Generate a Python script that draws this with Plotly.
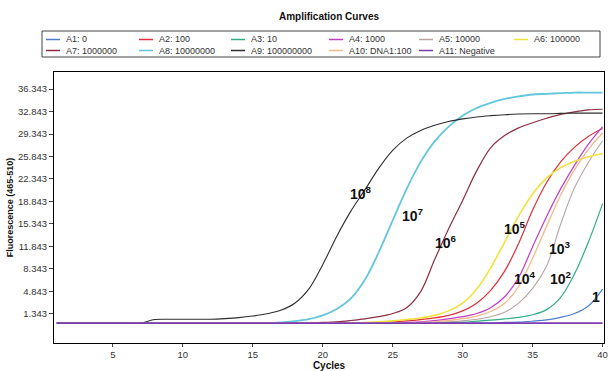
import plotly.graph_objects as go

cycles = list(range(1, 41))
b = -0.1

a1_blank = [b] * 32 + [0.0, 0.05, 0.2, 0.4, 0.8, 1.4, 2.6, 5.2]
a2_100 = [b] * 23 + [0.0, 0.1, 0.25, 0.45, 0.7, 1.1, 1.8, 3.0, 5.0, 8.0, 12.3, 17.5, 21.8, 25.0, 27.3, 29.0, 30.2]
a3_10 = [b] * 28 + [0.0, 0.05, 0.2, 0.35, 0.55, 0.8, 1.2, 2.0, 3.9, 7.6, 12.6, 18.5]
a4_1000 = [b] * 25 + [0.0, 0.1, 0.3, 0.55, 0.9, 1.4, 2.3, 4.0, 7.0, 11.8, 16.5, 20.8, 24.5, 27.8, 30.5]
a5_10000 = [b] * 27 + [0.0, 0.1, 0.25, 0.5, 0.9, 1.6, 3.0, 5.3, 8.8, 15.3, 21.0, 25.0, 28.3]
a6_1e5 = [b] * 22 + [0.0, 0.1, 0.25, 0.45, 0.7, 1.1, 1.8, 3.0, 5.2, 8.5, 12.5, 16.6, 20.0, 22.5, 24.1, 25.1, 25.8, 26.3]
a7_1e6 = [b] * 19 + [0.0, 0.1, 0.3, 0.55, 0.9, 1.4, 2.3, 4.8, 9.8, 14.6, 19.0, 23.6, 27.2, 29.1, 30.3, 31.1, 31.8, 32.4, 32.8, 33.1, 33.2]
a8_1e7 = [b] * 16 + [0.0, 0.2, 0.5, 1.1, 2.1, 3.7, 6.6, 10.9, 15.9, 20.8, 25.0, 28.2, 30.5, 32.2, 33.4, 34.2, 34.8, 35.2, 35.5, 35.6, 35.7, 35.8, 35.8, 35.8]
a9_1e8 = [b] * 7 + [0.45, 0.5, 0.5, 0.5, 0.5, 0.6, 0.75, 1.0, 1.35, 1.9, 3.0, 5.2, 9.0, 13.4, 17.3, 20.6, 24.0, 26.8, 28.7, 29.9, 30.7, 31.3, 31.7, 32.0, 32.2, 32.35, 32.45, 32.5, 32.5, 32.55, 32.6, 32.6, 32.6]
a10_dna = [b] * 26 + [0.0, 0.1, 0.3, 0.6, 1.0, 1.7, 3.0, 5.6, 10.0, 15.0, 19.8, 23.8, 27.0, 29.5]
a11_neg = [b] * 40

series_names = ["A1: 0", "A2: 100", "A3: 10", "A4: 1000", "A5: 10000", "A6: 100000",
                "A7: 1000000", "A8: 10000000", "A9: 100000000", "A10: DNA1:100", "A11: Negative"]
series_values = [a1_blank, a2_100, a3_10, a4_1000, a5_10000, a6_1e5, a7_1e6, a8_1e7, a9_1e8, a10_dna, a11_neg]
series_colors = ["#4f7fc8", "#e0303a", "#2fae86", "#c23cc4", "#b9a4a4", "#f2e23c",
                 "#8c2f42", "#62c6dc", "#2e2e2e", "#f2b98a", "#7a3cb0"]
series_widths = [1.2, 1.2, 1.2, 1.2, 1.1, 1.6, 1.2, 1.8, 1.1, 1.3, 1.6]

y_ticks = [1.343 + 3.5 * k for k in range(11)]
y_tick_text = ["%.3f" % v for v in y_ticks]
x_ticks = [5, 10, 15, 20, 25, 30, 35, 40]

labels_text = ["<b>10<sup>8</sup></b>", "<b>10<sup>7</sup></b>", "<b>10<sup>6</sup></b>", "<b>10<sup>5</sup></b>",
               "<b>10<sup>3</sup></b>", "<b>10<sup>4</sup></b>", "<b>10<sup>2</sup></b>", "<b>1</b>"]
labels_x = [21.8, 25.5, 27.86, 32.79, 36.0, 33.5, 36.07, 39.07]
labels_y = [20.16, 16.74, 12.54, 14.72, 11.61, 6.94, 6.94, 3.99]

W, H = 609, 371
ML, MR, MT, MB = 54, 5, 72, 28
PW, PH = W - ML - MR, H - MT - MB


def px_x(px):
    return (px - ML) / PW


def px_y(py):
    return (H - MB - py) / PH


fig = go.Figure()
for name, vals, col, w in zip(series_names, series_values, series_colors, series_widths):
    fig.add_trace(go.Scatter(x=cycles, y=vals, name=name, mode="lines", showlegend=False,
                             line=dict(color=col, width=w, shape="spline", smoothing=1.0)))

for t, xv, yv in zip(labels_text, labels_x, labels_y):
    fig.add_annotation(x=xv, y=yv, text=t, showarrow=False, xanchor="left", yanchor="middle",
                       font=dict(family="Liberation Sans, Arial", size=14, color="#111111"))

# legend box (drawn as layout decoration, entries from the series lists)
shapes = [dict(type="rect", xref="paper", yref="paper", x0=px_x(42), x1=px_x(600),
               y0=px_y(57), y1=px_y(31), line=dict(color="#444444", width=1), fillcolor="white", layer="above")]
col_starts = [46, 139, 231, 329, 419, 514]
row_centers = [39.5, 50.5]
for i, (name, col) in enumerate(zip(series_names, series_colors)):
    r, c = divmod(i, 6)
    x0 = col_starts[c]
    yc = row_centers[r]
    shapes.append(dict(type="line", xref="paper", yref="paper", x0=px_x(x0), x1=px_x(x0 + 14),
                       y0=px_y(yc), y1=px_y(yc), line=dict(color=col, width=1.5), layer="above"))
    fig.add_annotation(xref="paper", yref="paper", x=px_x(x0 + 18), y=px_y(yc), text=name,
                       showarrow=False, xanchor="left", yanchor="middle",
                       font=dict(family="Liberation Sans, Arial", size=9, color="#333333"))

fig.update_layout(
    width=W, height=H,
    margin=dict(l=ML, r=MR, t=MT, b=MB, autoexpand=False),
    paper_bgcolor="white", plot_bgcolor="white",
    font=dict(family="Liberation Sans, Arial", size=10, color="#222222"),
    title=dict(text="<b>Amplification Curves</b>", x=0.5, xref="paper", y=0.955, yanchor="middle",
               font=dict(size=10, color="#111111")),
    showlegend=False,
    shapes=shapes,
    xaxis=dict(range=[0.8, 40.1], tickvals=x_ticks, ticks="outside", ticklen=3,
               showgrid=False, zeroline=False, showline=True, linecolor="black", linewidth=1, mirror=True,
               title=dict(text="<b>Cycles</b>", standoff=0, font=dict(size=10, color="#111111")),
               tickfont=dict(size=9.5, color="#333333")),
    yaxis=dict(range=[-3.2, 39.0], tickvals=y_ticks, ticktext=y_tick_text, ticks="outside", ticklen=4,
               showgrid=False, zeroline=False, showline=True, linecolor="black", linewidth=1, mirror=True,
               title=dict(text="<b>Fluorescence (465-510)</b>", standoff=2, font=dict(size=9, color="#111111")),
               tickfont=dict(size=9.5, color="#333333")),
)

fig.write_html("out.html")
